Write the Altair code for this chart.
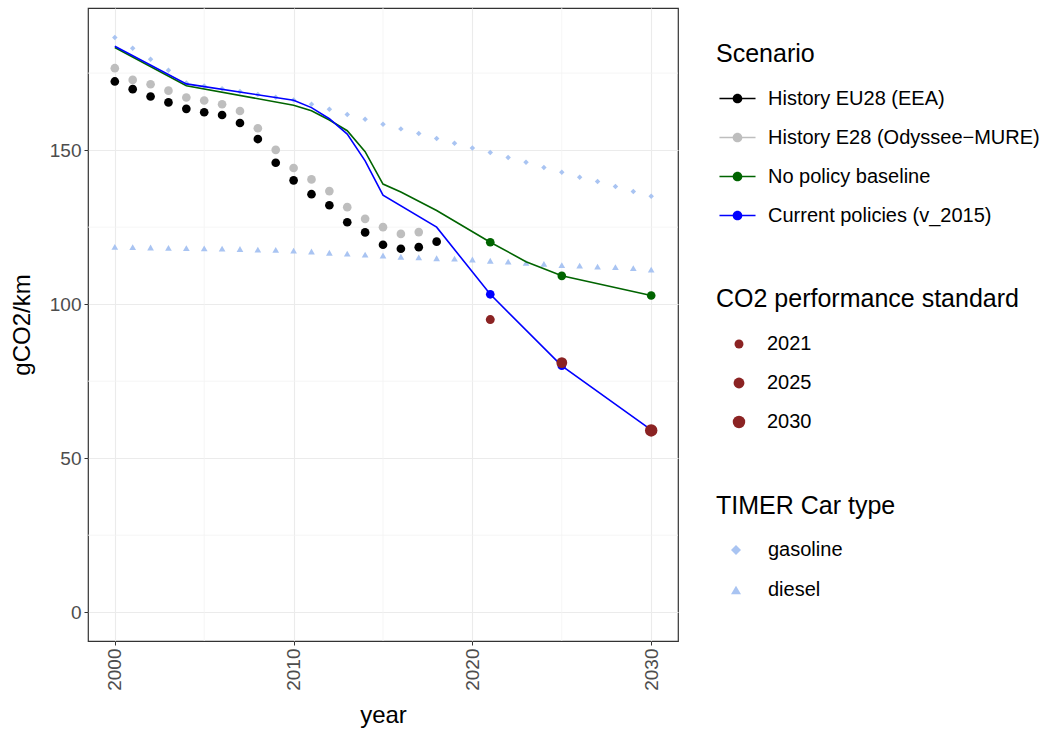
import altair as alt
import pandas as pd

# ---------------- data ----------------
eea_years = list(range(2000, 2019))
eea_vals = [172.3, 169.8, 167.4, 165.5, 163.4, 162.3, 161.4, 158.8, 153.6, 145.9,
            140.2, 135.7, 132.1, 126.6, 123.3, 119.3, 118.0, 118.5, 120.3]

ody_years = list(range(2000, 2018))
ody_vals = [176.6, 172.8, 171.4, 169.3, 167.1, 166.1, 164.9, 162.7, 157.1, 150.1,
            144.2, 140.5, 136.7, 131.5, 127.7, 125.0, 122.8, 123.4]

timer_years = list(range(2000, 2031))
gasoline_vals = [186.6, 183.1, 179.5, 175.9, 171.8, 170.8, 169.9, 169.0, 168.1, 167.2,
                 166.3, 164.9, 163.3, 161.6, 160.0, 158.4, 156.9, 155.4, 153.8, 152.2,
                 150.7, 149.2, 147.6, 146.1, 144.4, 142.8, 141.2, 139.8, 138.2, 136.6, 135.0]
diesel_vals = [118.6, 118.5, 118.4, 118.3, 118.2, 118.1, 118.0, 117.9, 117.7, 117.6,
               117.4, 117.1, 116.7, 116.4, 116.1, 115.8, 115.4, 115.2, 114.9, 114.8,
               114.5, 114.1, 113.8, 113.4, 113.1, 112.7, 112.5, 112.2, 112.0, 111.7, 111.2]

cp_years = [2000, 2004, 2010, 2011, 2012, 2013, 2014, 2015, 2018, 2021, 2025, 2030]
cp_vals = [183.7, 171.5, 166.2, 163.8, 160.2, 155.2, 146.5, 135.4, 125.0, 103.2, 80.0, 59.2]

npb_years = [2000, 2004, 2010, 2011, 2012, 2013, 2014, 2015, 2016, 2018, 2021, 2023, 2025, 2030]
npb_vals = [183.3, 170.9, 164.6, 162.8, 159.8, 156.3, 149.5, 139.0, 136.4, 130.4, 120.1, 113.8, 109.2, 102.8]

model_pt_years = [2021, 2025, 2030]
cp_pt_vals = [103.2, 80.0, 59.2]
npb_pt_vals = [120.1, 109.2, 102.8]

std_labels = ["2021", "2025", "2030"]
std_years = [2021, 2025, 2030]
std_vals = [95.0, 81.0, 59.0]

minor_x = [2005, 2015, 2025]
minor_y = [25, 75, 125, 175]

scenarios = ["History EU28 (EEA)", "History E28 (Odyssee\u2212MURE)",
             "No policy baseline", "Current policies (v_2015)"]
scen_colors = ["#000000", "#BEBEBE", "#006400", "#0000FF"]
car_types = ["gasoline", "diesel"]
timer_color = "#a9c4f2"
std_color = "#8B2323"

# ---------------- tables ----------------
hist_df = pd.concat([
    pd.DataFrame({"year": ody_years, "value": ody_vals, "scenario": scenarios[1]}),
    pd.DataFrame({"year": eea_years, "value": eea_vals, "scenario": scenarios[0]}),
])
lines_df = pd.concat([
    pd.DataFrame({"year": npb_years, "value": npb_vals, "scenario": scenarios[2]}),
    pd.DataFrame({"year": cp_years, "value": cp_vals, "scenario": scenarios[3]}),
])
model_pts_df = pd.concat([
    pd.DataFrame({"year": model_pt_years, "value": npb_pt_vals, "scenario": scenarios[2]}),
    pd.DataFrame({"year": model_pt_years, "value": cp_pt_vals, "scenario": scenarios[3]}),
])
gas_df = pd.DataFrame({"year": timer_years, "value": gasoline_vals, "car": "gasoline"})
die_df = pd.DataFrame({"year": timer_years, "value": diesel_vals, "car": "diesel"})
std_df = pd.DataFrame({"year": std_years, "value": std_vals, "standard": std_labels})
minor_x_df = pd.DataFrame({"year": minor_x})
minor_y_df = pd.DataFrame({"value": minor_y})

FONT = "Liberation Sans"

xscale = alt.Scale(domain=[1998.5, 2031.5], nice=False, zero=False)
yscale = alt.Scale(domain=[-9.34, 196.14], nice=False, zero=False)
X = alt.X("year:Q", scale=xscale,
          axis=alt.Axis(values=[2000, 2010, 2020, 2030], format="d", labelAngle=270,
                        title="year", titlePadding=13))
Y = alt.Y("value:Q", scale=yscale,
          axis=alt.Axis(values=[0, 50, 100, 150], format="d", title="gCO2/km",
                        titlePadding=15))

color_scale = alt.Scale(domain=scenarios, range=scen_colors)

legend_path = ("M-1,-0.045L1,-0.045L1,0.045L-1,0.045Z"
               "M0.27,0A0.27,0.27,0,1,1,-0.27,0A0.27,0.27,0,1,1,0.27,0Z")

scen_legend = alt.Legend(title="Scenario", orient="none", legendX=628, legendY=34,
                         symbolType=legend_path, symbolSize=1300, symbolStrokeWidth=0,
                         symbolOffset=3, labelOffset=12, rowPadding=10, titlePadding=13,
                         labelLimit=0)

minor_gx = alt.Chart(minor_x_df).mark_rule(color="#F2F2F2", strokeWidth=0.8).encode(x=X)
minor_gy = alt.Chart(minor_y_df).mark_rule(color="#F2F2F2", strokeWidth=0.8).encode(y=Y)

shape_scale = alt.Scale(domain=car_types, range=["diamond", "triangle-up"])
car_legend = alt.Legend(title="TIMER Car type", orient="none", legendX=628, legendY=486,
                        symbolFillColor=timer_color, symbolStrokeWidth=0,
                        symbolOffset=10, labelOffset=22, rowPadding=20, titlePadding=21,
                        labelLimit=0)

gas = alt.Chart(gas_df).mark_point(filled=True, color=timer_color, opacity=1, size=30,
                                   strokeWidth=0).encode(
    x=X, y=Y, shape=alt.Shape("car:N", scale=shape_scale, legend=car_legend))
die = alt.Chart(die_df).mark_point(filled=True, color=timer_color, opacity=1, size=45,
                                   strokeWidth=0).encode(
    x=X, y=Y, shape=alt.Shape("car:N", scale=shape_scale, legend=car_legend))

hist = alt.Chart(hist_df).mark_circle(size=75, opacity=1).encode(
    x=X, y=Y, color=alt.Color("scenario:N", scale=color_scale, legend=scen_legend))

lines = alt.Chart(lines_df).mark_line(strokeWidth=1.6).encode(
    x=X, y=Y,
    stroke=alt.Stroke("scenario:N", scale=alt.Scale(domain=scenarios, range=scen_colors),
                      legend=None),
    detail="scenario:N")

model_pts = alt.Chart(model_pts_df).mark_circle(size=75, opacity=1).encode(
    x=X, y=Y, color=alt.Color("scenario:N", scale=color_scale, legend=scen_legend))

std = alt.Chart(std_df).mark_circle(color=std_color, opacity=1).encode(
    x=X, y=Y,
    size=alt.Size("standard:O", scale=alt.Scale(domain=std_labels, range=[80, 155, 230]),
                  legend=alt.Legend(title="CO2 performance standard", orient="none",
                                    legendX=628, legendY=279, symbolFillColor=std_color,
                                    symbolStrokeWidth=0, symbolOffset=13, labelOffset=18,
                                    rowPadding=19, titlePadding=22, labelLimit=0,
                                    titleLimit=0)))

chart = alt.layer(minor_gx, minor_gy, gas, die, hist, lines, model_pts, std).properties(
    width=590, height=633,
    autosize=alt.AutoSizeParams(type="none"),
    padding={"left": 88, "top": 8, "right": 376, "bottom": 90},
).resolve_scale(color="shared").configure_axis(
    domain=False, tickColor="#333333", tickSize=4, tickWidth=1,
    labelColor="#4D4D4D", labelFontSize=19, labelFont=FONT, labelPadding=3,
    titleFont=FONT, titleFontSize=24, titleFontWeight="normal", titleColor="#000000",
    gridColor="#EBEBEB", gridWidth=1.1,
).configure_view(stroke="#333333", strokeWidth=1.2).configure_legend(
    titleFont=FONT, titleFontSize=25, titleFontWeight="normal", titleColor="#000000",
    labelFont=FONT, labelFontSize=20, labelColor="#000000", padding=0,
    labelLimit=0, titleLimit=0,
)

chart.save("out.html", embed_options={"renderer": "svg", "actions": False})
